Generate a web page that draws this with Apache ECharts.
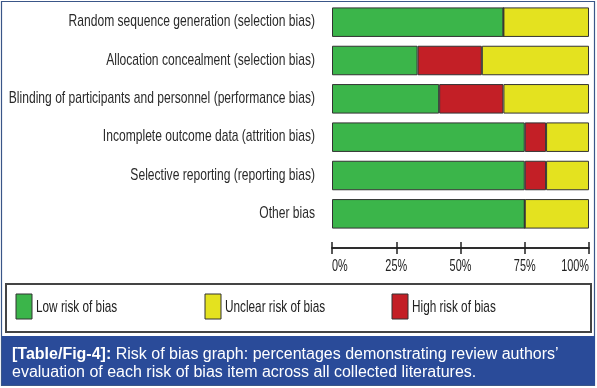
<!DOCTYPE html>
<html>
<head>
<meta charset="utf-8">
<script src="https://cdn.jsdelivr.net/npm/echarts@6/dist/echarts.min.js"></script>
<style>
html,body{margin:0;padding:0;background:#fff;}
#chart{width:597px;height:388px;}
</style>
</head>
<body>
<div id="chart"></div>
<script>
var categories = [
  'Random sequence generation (selection bias)',
  'Allocation concealment (selection bias)',
  'Blinding of participants and personnel (performance bias)',
  'Incomplete outcome data (attrition bias)',
  'Selective reporting (reporting bias)',
  'Other bias'
];
var lowRisk = [66.7, 33.3, 41.7, 75, 75, 75];
var highRisk = [0, 25, 25, 8.3, 8.3, 0];
var unclearRisk = [33.3, 41.7, 33.3, 16.7, 16.7, 25];
var tickValues = [0, 25, 50, 75, 100];
var tickLabels = ['0%', '25%', '50%', '75%', '100%'];
var seriesNames = ['Low risk of bias', 'Unclear risk of bias', 'High risk of bias'];

var FONT = '"Liberation Sans", Arial, sans-serif';
var GREEN = '#3bb54a', YELLOW = '#e4e21f', RED = '#c31f26', BLUE = '#2a4b99';
var legendColors = [GREEN, YELLOW, RED];
var legendLefts = [16, 205, 392];

var chart = echarts.init(document.getElementById('chart'));
function barSeries(name, data, color) {
  return {
    name: name, type: 'bar', stack: 'total', data: data,
    barCategoryGap: '23%',
    itemStyle: { color: color, borderColor: '#333', borderWidth: 1 },
    emphasis: { disabled: true }
  };
}
var xCommon = {
  type: 'value', min: 0, max: 100, interval: 25, position: 'bottom', offset: 15,
  splitLine: { show: false },
  axisLine: { show: true, lineStyle: { color: '#222', width: 1.5 } },
  axisLabel: { show: false }
};
chart.setOption({
  animation: false,
  grid: { left: 332, right: 8, top: 3, height: 230, outerBoundsMode: 'none', containLabel: false },
  xAxis: [
    Object.assign({}, xCommon, {
      axisTick: { show: true, length: 6, lineStyle: { color: '#222', width: 1.5 } }
    }),
    Object.assign({}, xCommon, {
      axisTick: { show: true, inside: true, length: 6, lineStyle: { color: '#222', width: 1.5 } }
    })
  ],
  yAxis: {
    type: 'category', data: categories, inverse: true,
    axisLine: { show: false }, axisTick: { show: false }, axisLabel: { show: false }
  },
  series: [
    barSeries(seriesNames[0], lowRisk, GREEN),
    barSeries(seriesNames[2], highRisk, RED),
    barSeries(seriesNames[1], unclearRisk, YELLOW)
  ]
});

// condensed-looking text labels placed through the axes' own scales
var g = [
  { type: 'rect', shape: { x: 1.5, y: 1.5, width: 593, height: 384 }, style: { fill: 'none', stroke: '#3a5688', lineWidth: 1.2 }, z: -1 },
  { type: 'rect', shape: { x: 6, y: 284, width: 585, height: 48 }, style: { fill: '#fff', stroke: '#444', lineWidth: 2 }, z: -1 },
  { type: 'rect', shape: { x: 2, y: 336, width: 593, height: 49 }, style: { fill: BLUE }, z: -1 },
  {
    type: 'text', x: 12, y: 345.5, z: 10,
    style: {
      text: '{b|[Table/Fig-4]:} Risk of bias graph: percentages demonstrating review authors\u2019\nevaluation of each risk of bias item across all collected literatures.',
      fill: '#fff', font: '16px ' + FONT, lineHeight: 18,
      rich: { b: { fontWeight: 'bold', fontSize: 16, fill: '#fff', fontFamily: FONT } }
    }
  }
];
var x0 = chart.convertToPixel({ xAxisIndex: 0 }, 0);
categories.forEach(function (c) {
  var y = chart.convertToPixel({ yAxisIndex: 0 }, c);
  g.push({
    type: 'text', x: x0 - 17, y: y, scaleX: 0.77, z: 10,
    style: { text: c, font: '15.7px ' + FONT, fill: '#2a2a2a', align: 'right', verticalAlign: 'middle' }
  });
});
var axisY = 248;
tickValues.forEach(function (v, i) {
  var x = chart.convertToPixel({ xAxisIndex: 0 }, v);
  var align = i === 0 ? 'left' : (i === tickValues.length - 1 ? 'right' : 'center');
  g.push({
    type: 'text', x: x, y: axisY + 18.5, scaleX: 0.68, z: 10,
    style: { text: tickLabels[i], font: '16px ' + FONT, fill: '#222', align: align, verticalAlign: 'middle' }
  });
});
seriesNames.forEach(function (n, i) {
  g.push({ type: 'rect', shape: { x: legendLefts[i], y: 294, width: 16, height: 25 }, style: { fill: legendColors[i], stroke: '#333', lineWidth: 1 }, z: 10 });
  g.push({
    type: 'text', x: legendLefts[i] + 20, y: 307, scaleX: 0.71, z: 10,
    style: { text: n, font: '16.6px ' + FONT, fill: '#222', align: 'left', verticalAlign: 'middle' }
  });
});
chart.setOption({ graphic: g });
</script>
</body>
</html>
